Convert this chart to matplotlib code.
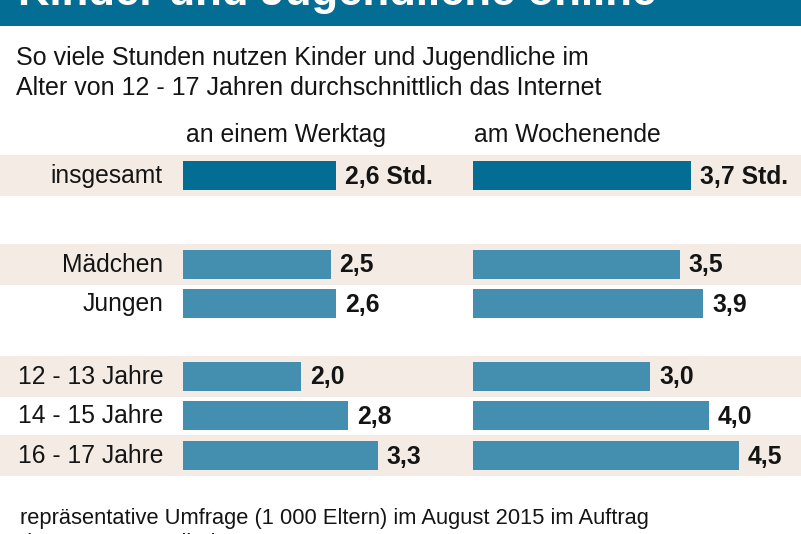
"""Balkengrafik: Kinder und Jugendliche online."""

import matplotlib
matplotlib.use("Agg")
import matplotlib.pyplot as plt

plt.rcParams["font.family"] = ["Liberation Sans", "DejaVu Sans"]

categories = ["insgesamt", "Mädchen", "Jungen", "12 - 13 Jahre", "14 - 15 Jahre", "16 - 17 Jahre"]
werktag = [2.6, 2.5, 2.6, 2.0, 2.8, 3.3]
wochenende = [3.7, 3.5, 3.9, 3.0, 4.0, 4.5]
werktag_labels = ["2,6 Std.", "2,5", "2,6", "2,0", "2,8", "3,3"]
wochenende_labels = ["3,7 Std.", "3,5", "3,9", "3,0", "4,0", "4,5"]

W, H = 801, 534
ROW_Y = [175.5, 264, 303, 376, 415, 455]
BAND_ROWS = [0, 1, 3, 5]
BAR_H = 29
PX_PER_HOUR = 59
DARK = "#046d93"
LIGHT = "#448fb0"
BAND = "#f4ece4"
TEXT = "#141414"

fig = plt.figure(figsize=(W / 100, H / 100), dpi=100, facecolor="white")

# Background layer in pixel coordinates
bg = fig.add_axes([0, 0, 1, 1])
bg.set_xlim(0, W)
bg.set_ylim(H, 0)
bg.axis("off")
bg.axhspan(0, 26, color=DARK, lw=0)
for i in BAND_ROWS:
    bg.axhspan(ROW_Y[i] - 20.5, ROW_Y[i] + 20.5, color=BAND, lw=0)

bg.text(18, 5, "Kinder und Jugendliche online", fontsize=31.4, fontweight="bold",
        color="white", va="baseline", ha="left")
bg.text(16, 65, "So viele Stunden nutzen Kinder und Jugendliche im",
        fontsize=18, color=TEXT, va="baseline")
bg.text(16, 95, "Alter von 12 - 17 Jahren durchschnittlich das Internet",
        fontsize=18, color=TEXT, va="baseline")
bg.text(186, 142, "an einem Werktag", fontsize=17.8, color=TEXT, va="baseline")
bg.text(474, 142, "am Wochenende", fontsize=17.8, color=TEXT, va="baseline")
bg.text(20, 524, "repräsentative Umfrage (1 000 Eltern) im August 2015 im Auftrag",
        fontsize=15.75, color=TEXT, va="baseline")
bg.text(20, 549, "der DAK-Gesundheit", fontsize=15.75, color=TEXT, va="baseline")

for y, cat in zip(ROW_Y, categories):
    bg.text(163, y + 8, cat, fontsize=17.7, color=TEXT, ha="right", va="baseline")


def draw_panel(x0, values, labels):
    ax = fig.add_axes([x0 / W, 0, 5 * PX_PER_HOUR / W, 1])
    ax.patch.set_alpha(0)
    ax.set_xlim(0, 5)
    ax.set_ylim(H, 0)
    ax.axis("off")
    colors = [DARK] + [LIGHT] * (len(values) - 1)
    ax.barh(ROW_Y, values, height=BAR_H, color=colors, linewidth=0)
    for y, v, lab in zip(ROW_Y, values, labels):
        ax.annotate(lab, (v, y), xytext=(9, -8.5), textcoords="offset pixels",
                    fontsize=17.8, fontweight="bold", color=TEXT,
                    ha="left", va="baseline", annotation_clip=False)


draw_panel(183, werktag, werktag_labels)
draw_panel(473, wochenende, wochenende_labels)

fig.savefig("out.png", dpi=100)
plt.close(fig)
